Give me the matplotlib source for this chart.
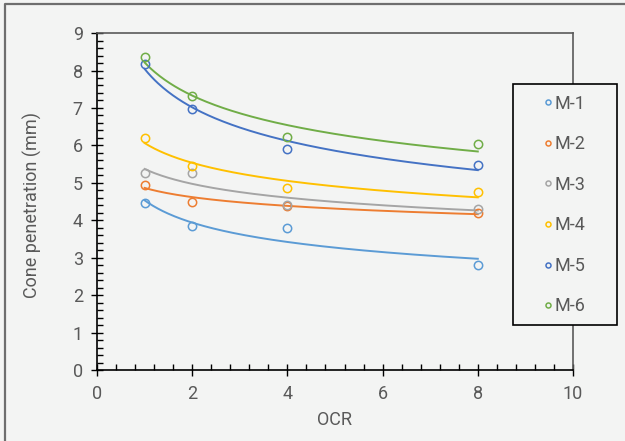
import matplotlib
matplotlib.use("Agg")
import matplotlib.pyplot as plt
from matplotlib.patches import Rectangle
from matplotlib.lines import Line2D
from matplotlib.ticker import MultipleLocator
import numpy as np

plt.rcParams['font.family'] = ['Roboto', 'DejaVu Sans']

# data
ocr = [1, 2, 4, 8]
m1 = [4.45, 3.85, 3.78, 2.80]
m2 = [4.95, 4.50, 4.38, 4.20]
m3 = [5.25, 5.25, 4.42, 4.30]
m4 = [6.20, 5.45, 4.87, 4.75]
m5 = [8.17, 6.98, 5.90, 5.48]
m6 = [8.35, 7.33, 6.23, 6.03]
labels = ['M-1', 'M-2', 'M-3', 'M-4', 'M-5', 'M-6']
colors = ['#5B9BD5', '#ED7D31', '#A5A5A5', '#FFC000', '#4472C4', '#70AD47']

bg = '#F3F4F3'
txt = '#595959'
fs = 13

fig = plt.figure(figsize=(6.25, 4.41), dpi=100, facecolor=bg)
ax = fig.add_axes([0.1552, 0.161, 0.7616, 0.764])
ax.set_facecolor(bg)

xfit = np.linspace(1, 8, 200)
for y, lab, c in zip([m1, m2, m3, m4, m5, m6], labels, colors):
    # power trendline like excel: y = a*x^b
    b, loga = np.polyfit(np.log(ocr), np.log(y), 1)
    ax.plot(xfit, np.exp(loga) * xfit ** b, color=c, lw=1.4, zorder=2)
    ax.plot(ocr, y, 'o', mfc='none', mec=c, mew=1.1, ms=6, label=lab, zorder=3)

ax.set_xlim(0, 10)
ax.set_ylim(0, 9)
ax.xaxis.set_major_locator(MultipleLocator(2))
ax.xaxis.set_minor_locator(MultipleLocator(0.4))
ax.yaxis.set_major_locator(MultipleLocator(1))
ax.yaxis.set_minor_locator(MultipleLocator(0.2))
ax.tick_params(which='major', direction='inout', length=8.5, width=1, color='black',
               labelsize=fs, labelcolor=txt)
ax.tick_params(axis='x', which='major', pad=6.5)
ax.tick_params(axis='y', which='major', pad=6)
ax.tick_params(which='minor', direction='in', length=4, width=1, color='black')

for s in ['left', 'bottom']:
    ax.spines[s].set_color('black')
    ax.spines[s].set_linewidth(1.2)
for s in ['top', 'right']:
    ax.spines[s].set_color('#5a5a5a')
    ax.spines[s].set_linewidth(1.2)

ax.set_xlabel('OCR', fontsize=fs, color=txt)
ax.set_ylabel('Cone penetration (mm)', fontsize=fs, color=txt)
ax.xaxis.set_label_coords(0.5, -0.122)
ax.yaxis.set_label_coords(-0.116, 0.49)

# legend box, filled so it hides the right spine behind it
fig.patches.append(Rectangle((513 / 625, 1 - 325 / 441), 104 / 625, 241 / 441,
                             transform=fig.transFigure, facecolor=bg,
                             edgecolor='black', lw=1.2, zorder=4))

leg = fig.legend(loc='center', bbox_to_anchor=(565 / 625, 1 - 205 / 441),
                 fontsize=fs, labelspacing=1.25, borderpad=0,
                 handletextpad=0.15, handlelength=0.4, markerscale=0.6,
                 frameon=False)
leg.set_zorder(6)
for t in leg.get_texts():
    t.set_color(txt)

# outer border (only top and left visible in the crop)
fig.lines.append(Line2D([4.5 / 625, 4.5 / 625, 1], [0, 1 - 4 / 441, 1 - 4 / 441],
                        transform=fig.transFigure, color='#6e6e6e', lw=1.6))

plt.savefig('out.png', dpi=100, facecolor=bg)
